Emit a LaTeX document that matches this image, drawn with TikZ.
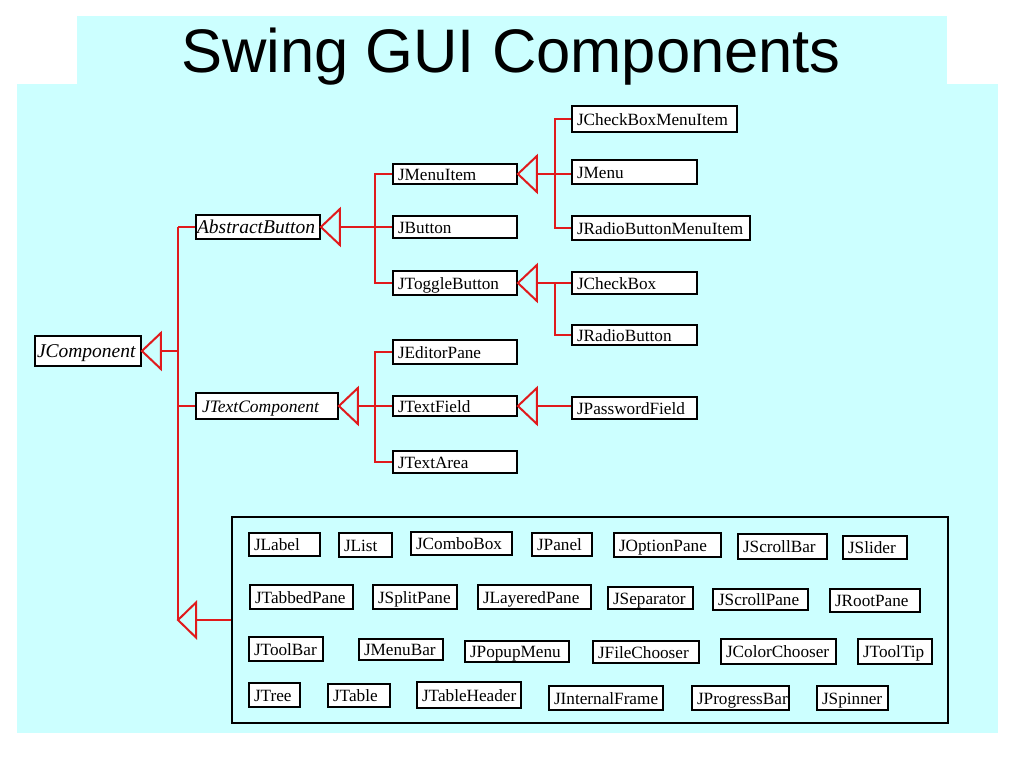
\documentclass[tikz,border=0pt]{standalone}
\usepackage{fontspec}
\setmainfont{Liberation Serif}
\newfontfamily\titlefont{Liberation Sans}
\usetikzlibrary{calc}
\definecolor{bgcyan}{HTML}{CCFFFF}
\definecolor{linkred}{HTML}{E01A1C}
\newcommand\clsbox[7][]{%
  \pgfmathsetmacro\cw{#5-#3-10}%
  \pgfmathsetmacro\ch{#6-#4}%
  \node[cls,text width=\cw pt,minimum height=\ch pt,#1] (#2) at ({(#3+#5)/2},{(#4+#6)/2}) {\mbox{#7}};}
\begin{document}
\begin{tikzpicture}[x=1pt,y=-1pt,
  cls/.style={draw=black,line width=1.8pt,fill=white,inner xsep=5pt,inner ysep=0pt,
    text height=12pt,text depth=0pt,align=left,font=\fontsize{17.2}{20}\selectfont},
  itcls/.style={font=\fontsize{19.5}{22}\selectfont\itshape,text height=13pt},
  conn/.style={draw=linkred,line width=2pt},
  gen/.style={draw=linkred,line width=2pt,fill=bgcyan,line join=miter},
  groupbox/.style={draw=black,line width=1.6pt,inner sep=0pt}]
\useasboundingbox (0,0) rectangle (1024,768);
\fill[white] (0,0) rectangle (1024,768);
\fill[bgcyan] (77,16) rectangle (947,85);
\fill[bgcyan] (17,84) rectangle (998,733);
\node[anchor=base,inner sep=0pt,font=\titlefont\fontsize{61.5}{70}\selectfont] (title) at (511,72) {Swing GUI Components};

% upper hierarchy
\clsbox[itcls,inner xsep=2pt,text width=102pt]{JComponent}{35}{336}{141}{366}{JComponent}
\clsbox[itcls,inner xsep=1pt,text width=122pt]{AbstractButton}{196}{215}{320}{239}{AbstractButton}
\clsbox[font=\fontsize{17.5}{20}\selectfont\itshape,inner xsep=6pt,text width=130pt]{JTextComponent}{196}{393}{338}{419}{JTextComponent}
\clsbox{JCheckBoxMenuItem}{572}{106}{737}{132}{JCheckBoxMenuItem}
\clsbox{JMenu}{572}{160}{697}{184}{JMenu}
\clsbox{JRadioButtonMenuItem}{572}{216}{750}{240}{JRadioButtonMenuItem}
\clsbox{JMenuItem}{393}{164}{517}{184}{JMenuItem}
\clsbox{JButton}{393}{216}{517}{238}{JButton}
\clsbox{JToggleButton}{393}{271}{517}{295}{JToggleButton}
\clsbox{JCheckBox}{572}{272}{697}{294}{JCheckBox}
\clsbox{JRadioButton}{572}{325}{697}{345}{JRadioButton}
\clsbox{JEditorPane}{393}{340}{517}{364}{JEditorPane}
\clsbox{JTextField}{393}{396}{517}{416}{JTextField}
\clsbox{JPasswordField}{572}{397}{697}{419}{JPasswordField}
\clsbox{JTextArea}{393}{451}{517}{473}{JTextArea}

% group of other components
\node[groupbox,minimum width=716pt,minimum height=206pt] (group) at (590,620) {};
\clsbox{JLabel}{249}{533}{320}{556}{JLabel}
\clsbox{JList}{339}{533}{392}{557}{JList}
\clsbox{JComboBox}{411}{532}{512}{555}{JComboBox}
\clsbox{JPanel}{532}{533}{592}{556}{JPanel}
\clsbox{JOptionPane}{614}{533}{721}{557}{JOptionPane}
\clsbox{JScrollBar}{738}{534}{827}{559}{JScrollBar}
\clsbox{JSlider}{843}{536}{907}{559}{JSlider}
\clsbox{JTabbedPane}{250}{585}{353}{609}{JTabbedPane}
\clsbox{JSplitPane}{373}{585}{457}{609}{JSplitPane}
\clsbox{JLayeredPane}{478}{585}{591}{609}{JLayeredPane}
\clsbox{JSeparator}{608}{587}{693}{609}{JSeparator}
\clsbox{JScrollPane}{713}{589}{808}{610}{JScrollPane}
\clsbox{JRootPane}{830}{589}{920}{612}{JRootPane}
\clsbox{JToolBar}{249}{637}{323}{661}{JToolBar}
\clsbox{JMenuBar}{359}{639}{443}{660}{JMenuBar}
\clsbox{JPopupMenu}{465}{641}{569}{662}{JPopupMenu}
\clsbox{JFileChooser}{593}{641}{699}{663}{JFileChooser}
\clsbox{JColorChooser}{721}{639}{836}{664}{JColorChooser}
\clsbox{JToolTip}{858}{639}{932}{664}{JToolTip}
\clsbox{JTree}{249}{683}{300}{707}{JTree}
\clsbox{JTable}{328}{684}{390}{707}{JTable}
\clsbox{JTableHeader}{417}{682}{521}{708}{JTableHeader}
\clsbox{JInternalFrame}{549}{686}{663}{710}{JInternalFrame}
\clsbox{JProgressBar}{692}{686}{789}{710}{JProgressBar}
\clsbox{JSpinner}{817}{686}{888}{710}{JSpinner}

% trunk x positions
\coordinate (tA) at (178,0);
\coordinate (tB) at (375,0);
\coordinate (tC) at (555,0);

% JComponent
\draw[gen] (JComponent.east) -- ++(19,-18) -- ++(0,36) -- cycle;
\draw[conn] ($(JComponent.east)+(19,0)$) -- (tA |- JComponent.east);
\draw[conn] (tA |- AbstractButton.west) -- (tA |- group.west);
\draw[conn] (tA |- AbstractButton.west) -- (AbstractButton.west);
\draw[conn] (tA |- JTextComponent.west) -- (JTextComponent.west);
\draw[gen] (tA |- group.west) -- ++(18,-17.5) -- ++(0,35) -- cycle;
\draw[conn] ($(tA |- group.west)+(18,0)$) -- (group.west);

% AbstractButton
\draw[gen] (AbstractButton.east) -- ++(19,-18) -- ++(0,36) -- cycle;
\draw[conn] ($(AbstractButton.east)+(19,0)$) -- (JButton.west |- AbstractButton.east);
\draw[conn] (JMenuItem.west) -| (tB |- JToggleButton.west) -- (JToggleButton.west);

% JTextComponent
\draw[gen] (JTextComponent.east) -- ++(19,-18) -- ++(0,36) -- cycle;
\draw[conn] ($(JTextComponent.east)+(19,0)$) -- (JTextField.west |- JTextComponent.east);
\draw[conn] (JEditorPane.west) -| (tB |- JTextArea.west) -- (JTextArea.west);

% JMenuItem
\draw[gen] (JMenuItem.east) -- ++(19,-18) -- ++(0,36) -- cycle;
\draw[conn] ($(JMenuItem.east)+(19,0)$) -- (JMenu.west |- JMenuItem.east);
\draw[conn] (JCheckBoxMenuItem.west) -| (tC |- JRadioButtonMenuItem.west) -- (JRadioButtonMenuItem.west);

% JToggleButton
\draw[gen] (JToggleButton.east) -- ++(19,-18) -- ++(0,36) -- cycle;
\draw[conn] ($(JToggleButton.east)+(19,0)$) -- (JCheckBox.west |- JToggleButton.east);
\draw[conn] (tC |- JToggleButton.east) |- (JRadioButton.west);

% JTextField
\draw[gen] (JTextField.east) -- ++(19,-18) -- ++(0,36) -- cycle;
\draw[conn] ($(JTextField.east)+(19,0)$) -- (JPasswordField.west |- JTextField.east);
\end{tikzpicture}
\end{document}
